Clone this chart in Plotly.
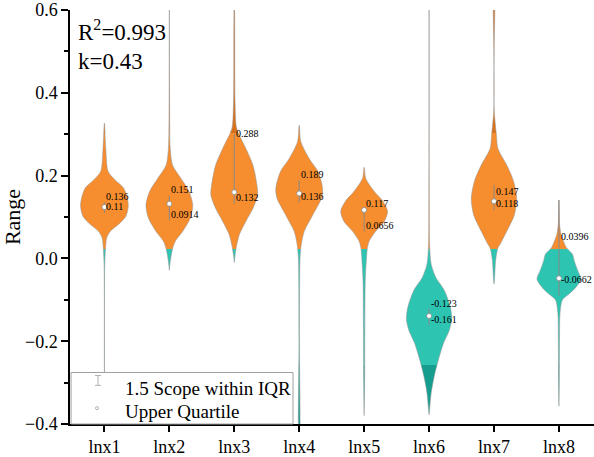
import plotly.graph_objects as go

categories = ["lnx1", "lnx2", "lnx3", "lnx4", "lnx5", "lnx6", "lnx7", "lnx8"]

# violin outlines: y value and relative half-width (1 = widest)
lnx1_y = [0.327, 0.265, 0.210, 0.190, 0.170, 0.145, 0.126, 0.102, 0.082, 0.066, 0.050, 0.026, -0.014, -0.10, -0.25, -0.45]
lnx1_w = [0.0, 0.06, 0.16, 0.45, 0.82, 0.98, 1.02, 0.92, 0.6, 0.26, 0.1, 0.05, 0.015, 0.004, 0.003, 0.003]
lnx2_y = [0.65, 0.385, 0.265, 0.225, 0.193, 0.162, 0.129, 0.098, 0.066, 0.042, 0.026, -0.005, -0.029]
lnx2_w = [0.004, 0.01, 0.04, 0.14, 0.5, 0.84, 1.0, 0.9, 0.58, 0.26, 0.15, 0.045, 0.0]
lnx3_y = [0.65, 0.545, 0.385, 0.32, 0.306, 0.265, 0.225, 0.177, 0.153, 0.121, 0.090, 0.058, 0.031, 0.010, -0.010]
lnx3_w = [0.01, 0.02, 0.03, 0.08, 0.15, 0.5, 0.8, 0.97, 1.0, 0.8, 0.5, 0.22, 0.1, 0.04, 0.0]
lnx4_y = [0.322, 0.282, 0.241, 0.210, 0.169, 0.145, 0.105, 0.066, 0.034, 0.002, -0.05, -0.2, -0.45]
lnx4_w = [0.0, 0.07, 0.43, 0.8, 1.0, 0.95, 0.58, 0.22, 0.09, 0.036, 0.02, 0.01, 0.008]
lnx5_y = [0.220, 0.193, 0.162, 0.138, 0.114, 0.090, 0.066, 0.042, 0.026, 0.0, -0.05, -0.17, -0.30, -0.38]
lnx5_w = [0.0, 0.07, 0.43, 0.8, 1.0, 0.87, 0.5, 0.22, 0.14, 0.1, 0.05, 0.03, 0.02, 0.0]
lnx6_y = [0.65, 0.145, 0.031, -0.014, -0.046, -0.077, -0.118, -0.146, -0.173, -0.206, -0.245, -0.285, -0.325, -0.373, -0.378]
lnx6_w = [0.003, 0.008, 0.025, 0.09, 0.29, 0.65, 0.91, 0.97, 0.87, 0.61, 0.4, 0.22, 0.09, 0.01, 0.0]
lnx7_y = [0.65, 0.58, 0.50, 0.36, 0.30, 0.265, 0.225, 0.186, 0.145, 0.105, 0.066, 0.034, 0.026, -0.005, -0.053, -0.062]
lnx7_w = [0.04, 0.03, 0.006, 0.008, 0.1, 0.17, 0.55, 0.84, 0.97, 0.87, 0.55, 0.26, 0.17, 0.07, 0.02, 0.0]
lnx8_y = [0.141, 0.082, 0.058, 0.038, 0.026, 0.010, -0.005, -0.029, -0.050, -0.070, -0.086, -0.10, -0.13, -0.2, -0.3, -0.357]
lnx8_w = [0.0, 0.03, 0.09, 0.22, 0.32, 0.58, 0.65, 0.8, 0.94, 0.72, 0.43, 0.15, 0.05, 0.025, 0.015, 0.0]

profiles_y = [lnx1_y, lnx2_y, lnx3_y, lnx4_y, lnx5_y, lnx6_y, lnx7_y, lnx8_y]
profiles_w = [lnx1_w, lnx2_w, lnx3_w, lnx4_w, lnx5_w, lnx6_w, lnx7_w, lnx8_w]

# inner range line, marker and labels
line_lo = [0.110, 0.0914, 0.132, 0.136, 0.0656, -0.161, 0.117, -0.09]
line_hi = [0.136, 0.151, 0.300, 0.189, 0.117, -0.121, 0.177, 0.141]
dot_val = [0.124, 0.132, 0.160, 0.157, 0.117, -0.139, 0.138, -0.048]
label_hi = [0.136, 0.151, 0.288, 0.189, 0.117, -0.123, 0.147, 0.0396]
label_lo = [0.11, 0.0914, 0.132, 0.136, 0.0656, -0.161, 0.118, -0.0662]
label_hi_txt = ["0.136", "0.151", "0.288", "0.189", "0.117", "-0.123", "0.147", "0.0396"]
label_lo_txt = ["0.11", "0.0914", "0.132", "0.136", "0.0656", "-0.161", "0.118", "-0.0662"]

HALF = 0.36
ORANGE = "#F68D2E"
DARK_ORANGE = "#D9701A"
TEAL = "#2EC4B2"
DARK_TEAL = "#159E8E"
FONT = "Liberation Serif, Times New Roman, Times, serif"

g0, g1 = -0.45, 0.65
def pos(v):
    return (v - g0) / (g1 - g0)

cscale = [
    [0.0, DARK_TEAL], [pos(-0.25), DARK_TEAL],
    [pos(-0.25), TEAL], [pos(0.028), TEAL],
    [pos(0.028), ORANGE], [pos(0.305), ORANGE],
    [pos(0.305), DARK_ORANGE], [1.0, DARK_ORANGE],
]

fig = go.Figure()
for i, (py, pw) in enumerate(zip(profiles_y, profiles_w)):
    xs = [i + w * HALF for w in pw] + [i - w * HALF for w in reversed(pw)]
    ys = list(py) + list(reversed(py))
    fig.add_trace(go.Scatter(
        x=xs, y=ys, mode="lines", fill="toself",
        line=dict(color="rgba(150,150,150,0.9)", width=0.6, shape="spline", smoothing=0.8),
        fillgradient=dict(type="vertical", colorscale=cscale, start=g0, stop=g1),
        hoverinfo="skip", showlegend=False))

for i in range(len(categories)):
    fig.add_trace(go.Scatter(x=[i, i], y=[line_lo[i], line_hi[i]], mode="lines",
                             line=dict(color="#8a8a8a", width=1), showlegend=False, hoverinfo="skip"))
fig.add_trace(go.Scatter(x=list(range(len(categories))), y=dot_val, mode="markers",
                         marker=dict(color="white", size=5, line=dict(color="#8a8a8a", width=0.8)),
                         showlegend=False, hoverinfo="skip"))

ann = []
for i in range(len(categories)):
    for v, t in ((label_hi[i], label_hi_txt[i]), (label_lo[i], label_lo_txt[i])):
        ann.append(dict(x=i, y=v, text=t, xref="x", yref="y", showarrow=False,
                        xanchor="left", yanchor="middle", xshift=0, yshift=6,
                        font=dict(family=FONT, size=10, color="black")))

ann.append(dict(x=0.012, y=0.99, xref="paper", yref="paper", text="R<sup>2</sup>=0.993",
                showarrow=False, xanchor="left", yanchor="top",
                font=dict(family=FONT, size=23, color="black")))
ann.append(dict(x=0.012, y=0.91, xref="paper", yref="paper", text="k=0.43",
                showarrow=False, xanchor="left", yanchor="top",
                font=dict(family=FONT, size=23, color="black")))
ann.append(dict(x=0.101, y=0.086, xref="paper", yref="paper", text="1.5 Scope within IQR",
                showarrow=False, xanchor="left", yanchor="middle",
                font=dict(family=FONT, size=19, color="black")))
ann.append(dict(x=0.101, y=0.030, xref="paper", yref="paper", text="Upper Quartile",
                showarrow=False, xanchor="left", yanchor="middle",
                font=dict(family=FONT, size=19, color="black")))

shapes = [
    dict(type="rect", xref="paper", yref="paper", x0=0.002, x1=0.4256, y0=0.0, y1=0.1244,
         fillcolor="white", line=dict(color="#a0a0a0", width=1), layer="above"),
    dict(type="line", xref="paper", yref="paper", x0=0.0534, x1=0.0534, y0=0.0933, y1=0.117,
         line=dict(color="#b0b0b0", width=1), layer="above"),
    dict(type="line", xref="paper", yref="paper", x0=0.0477, x1=0.0592, y0=0.117, y1=0.117,
         line=dict(color="#b0b0b0", width=1), layer="above"),
    dict(type="line", xref="paper", yref="paper", x0=0.0477, x1=0.0592, y0=0.0933, y1=0.0933,
         line=dict(color="#b0b0b0", width=1), layer="above"),
    dict(type="circle", xref="paper", yref="paper", xsizemode="pixel", ysizemode="pixel",
         xanchor=0.0515, yanchor=0.0383, x0=-1.5, x1=1.5, y0=-1.5, y1=1.5,
         line=dict(color="#a0a0a0", width=0.8), fillcolor="white", layer="above"),
]

fig.update_layout(
    width=594, height=457,
    margin=dict(l=70, r=0, t=10, b=29),
    plot_bgcolor="white", paper_bgcolor="white",
    annotations=ann, shapes=shapes,
    font=dict(family=FONT, color="black"),
    xaxis=dict(range=[-0.53, 7.54], tickmode="array", tickvals=list(range(len(categories))),
               ticktext=categories, showgrid=False, zeroline=False,
               showline=True, linecolor="black", linewidth=1.5,
               ticks="outside", ticklen=6, tickwidth=1.5, tickcolor="black",
               tickfont=dict(family=FONT, size=18, color="black")),
    yaxis=dict(range=[-0.4, 0.6], tickmode="array", tickvals=[-0.4, -0.2, 0.0, 0.2, 0.4, 0.6],
               ticktext=["\u22120.4", "\u22120.2", "0.0", "0.2", "0.4", "0.6"],
               showgrid=False, zeroline=False,
               showline=True, linecolor="black", linewidth=1.5,
               ticks="outside", ticklen=7, tickwidth=1.5, tickcolor="black",
               minor=dict(tickvals=[-0.3, -0.1, 0.1, 0.3, 0.5], ticks="outside", ticklen=4,
                          tickwidth=1.5, tickcolor="black"),
               tickfont=dict(family=FONT, size=18, color="black"),
               title=dict(text="Range", font=dict(family=FONT, size=22, color="black"), standoff=6)),
)

fig.write_html("out.html")
